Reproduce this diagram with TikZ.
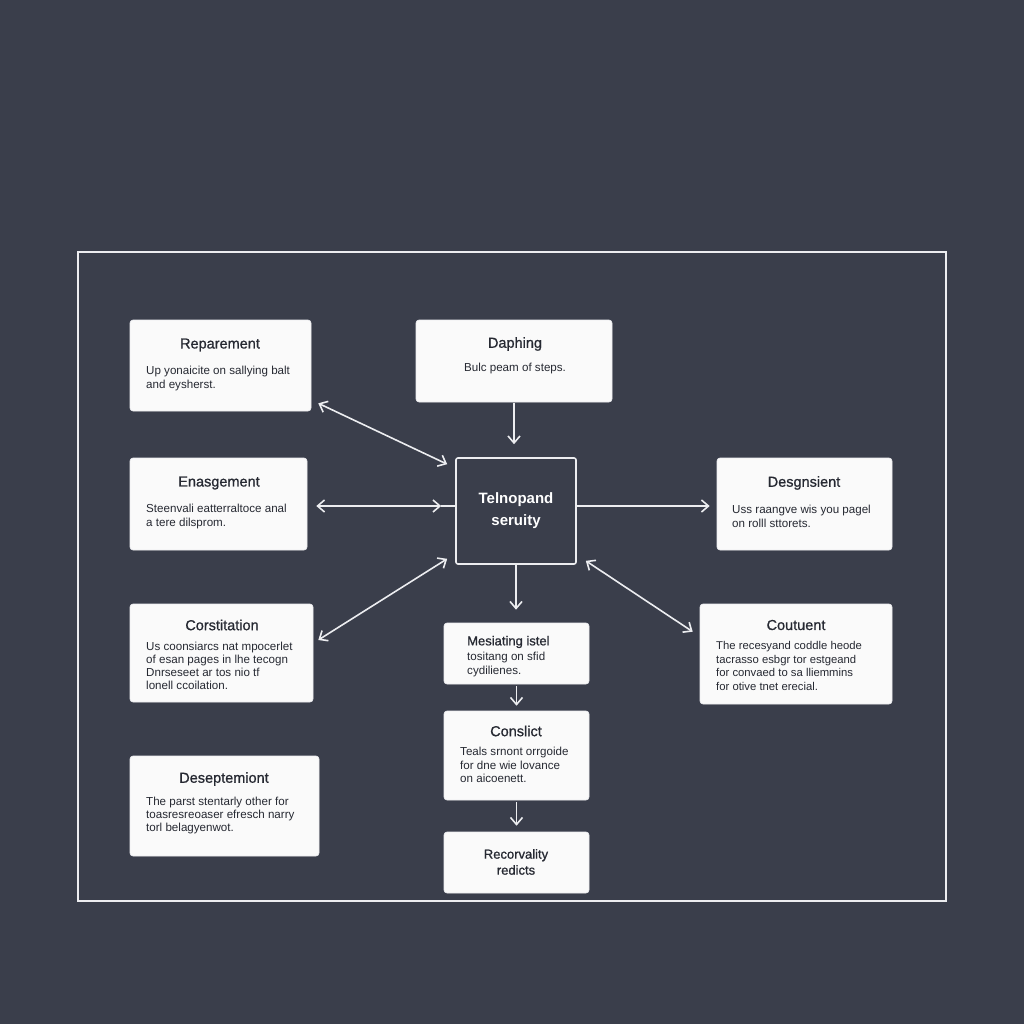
\documentclass[tikz,border=0pt]{standalone}
\usepackage{fontspec}
\setmainfont{Liberation Sans}
\newfontfamily\ttlfont[FakeBold=0.9]{Liberation Sans}
\usetikzlibrary{arrows.meta}
\definecolor{slate}{RGB}{58,62,75}
\definecolor{paper}{RGB}{250,250,250}
\definecolor{ink}{RGB}{38,41,50}
\definecolor{rim}{RGB}{236,237,240}
\begin{document}
\begin{tikzpicture}[x=1pt,y=-1pt,>={Straight Barb[length=7pt,width=12pt]},
	card/.style={draw=rim,fill=paper,rounded corners=3pt,line width=0.6pt,inner sep=0pt},
	hub/.style={draw=rim,fill=slate,rounded corners=2pt,line width=1.6pt,inner sep=0pt},
	ttl/.style={text=ink,font=\ttlfont\fontsize{14.5}{17}\selectfont,inner sep=0pt},
	txt/.style={text=ink,font=\fontsize{11.6}{14}\selectfont,align=left,inner sep=0pt,anchor=west},
	arr/.style={draw=rim,line width=1.6pt}]
		\fill[slate] (0,0) rectangle (1024,1024);
		\useasboundingbox (0,0) rectangle (1024,1024);
		\draw[rim,line width=1.6pt] (78,252) rectangle (946,901);
		\node[card,minimum width=181pt,minimum height=91pt] (rep) at (220.5,365.5) {};
		\node[ttl] (rep-t) at (220,345) {Reparement};
		\node[txt] (rep-b) at (146,378.5) {Up yonaicite on sallying balt\\and eysherst.};
		\node[card,minimum width=196pt,minimum height=82pt] (dap) at (514,361) {};
		\node[ttl] (dap-t) at (515,344) {Daphing};
		\node[txt,anchor=center] (dap-b) at (515,368) {Bulc peam of steps.};
		\node[card,minimum width=177pt,minimum height=92pt] (ena) at (218.5,504) {};
		\node[ttl] (ena-t) at (219,483) {Enasgement};
		\node[txt] (ena-b) at (146,516) {Steenvali eatterraltoce anal\\a tere dilsprom.};
		\node[hub,minimum width=120pt,minimum height=106pt] (cen) at (516,511) {};
		\node[ttl,text=white,font=\bfseries\fontsize{15}{22}\selectfont,align=center] (cen-t) at (516,511) {Telnopand\\seruity};
		\node[card,minimum width=175pt,minimum height=92pt] (des) at (804.5,504) {};
		\node[ttl] (des-t) at (804,483) {Desgnsient};
		\node[txt] (des-b) at (732,516) {Uss raangve wis you pagel\\on rolll sttorets.};
		\node[card,minimum width=183pt,minimum height=98pt] (con) at (221.5,653) {};
		\node[ttl] (con-t) at (222,625) {Corstitation};
		\node[txt,font=\fontsize{11.6}{12.8}\selectfont] (con-b) at (146,666) {Us coonsiarcs nat mpocerlet\\of esan pages in lhe tecogn\\Dnrseseet ar tos nio tf\\lonell ccoilation.};
		\node[card,minimum width=145pt,minimum height=61pt] (mes) at (516.5,653.5) {};
		\node[ttl,anchor=west,font=\ttlfont\fontsize{13}{15}\selectfont] (mes-t) at (467,642) {Mesiating istel};
		\node[txt] (mes-b) at (467,664) {tositang on sfid\\cydilienes.};
		\node[card,minimum width=192pt,minimum height=100pt] (cou) at (796,654) {};
		\node[ttl] (cou-t) at (796,625) {Coutuent};
		\node[txt,font=\fontsize{11.3}{13.5}\selectfont] (cou-b) at (716,666) {The recesyand coddle heode\\tacrasso esbgr tor estgeand\\for convaed to sa lliemmins\\for otive tnet erecial.};
		\node[card,minimum width=189pt,minimum height=100pt] (dse) at (224.5,806) {};
		\node[ttl] (dse-t) at (224,779) {Deseptemiont};
		\node[txt,font=\fontsize{11.6}{13}\selectfont] (dse-b) at (146,815) {The parst stentarly other for\\toasresreoaser efresch narry\\torl belagyenwot.};
		\node[card,minimum width=145pt,minimum height=89pt] (cnf) at (516.5,755.5) {};
		\node[ttl] (cnf-t) at (516,731) {Conslict};
		\node[txt,font=\fontsize{11.6}{13.5}\selectfont] (cnf-b) at (460,765) {Teals srnont orrgoide\\for dne wie lovance\\on aicoenett.};
		\node[card,minimum width=145pt,minimum height=61pt] (rec) at (516.5,862.5) {};
		\node[ttl,align=center,font=\ttlfont\fontsize{13}{16}\selectfont] (rec-t) at (516,862) {Recorvality\\redicts};
		\draw[arr,<->] ([xshift=7pt,yshift=8pt]rep.south east) -- ([xshift=-8pt,yshift=-7pt]cen.north west);
		\draw[arr,->,shorten <=1pt,shorten >=13pt] (dap.south) -- (dap.south |- cen.north);
		\draw[arr,<->] ([xshift=9pt,yshift=-2pt]ena.east) -- ([xshift=-14pt,yshift=5pt]cen.west);
		\draw[arr] ([xshift=-14pt,yshift=5pt]cen.west) -- ([yshift=5pt]cen.west);
		\draw[arr,->,shorten >=7pt] ([yshift=5pt]cen.east) -- ([yshift=-2pt]des.west);
		\draw[arr,<->] ([xshift=5pt,yshift=13pt]con.east) -- ([xshift=-8pt,yshift=6pt]cen.south west);
		\draw[arr,<->] ([xshift=9pt,yshift=4pt]cen.south east) -- ([xshift=-7pt,yshift=-28pt]cou.north west);
		\draw[arr,->,shorten >=13pt] (cen.south) -- (cen.south |- mes.north);
		\draw[arr,->,shorten <=2pt,shorten >=5pt] (mes.south) -- (cnf.north);
		\draw[arr,->,shorten <=2pt,shorten >=6pt] (cnf.south) -- (rec.north);
\end{tikzpicture}
\end{document}
